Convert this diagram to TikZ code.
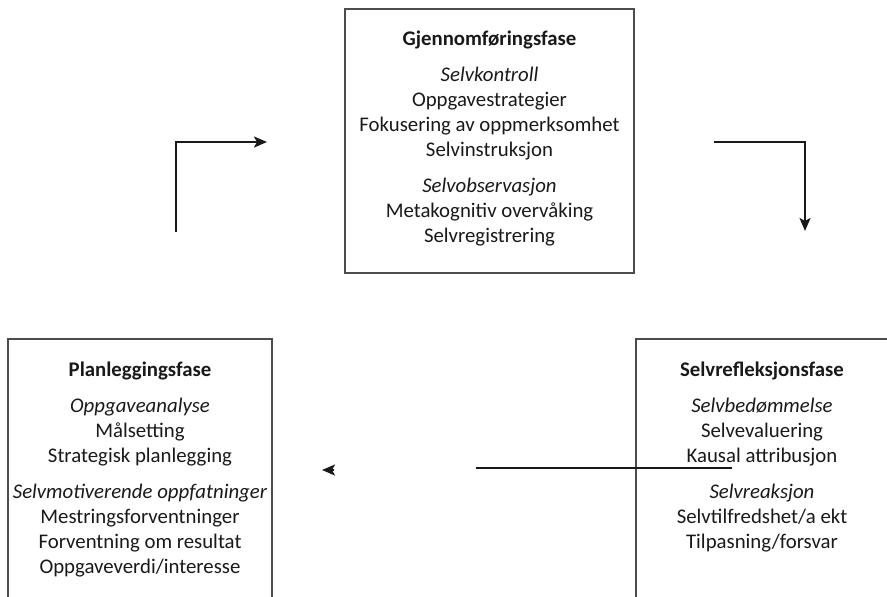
\documentclass[tikz,border=0pt]{standalone}
\usepackage{fontspec}
\setmainfont{Carlito}
\usetikzlibrary{arrows.meta,positioning}

\begin{document}
\begin{tikzpicture}[x=1pt, y=-1pt,
      box/.style={draw=black!70, line width=1.1pt, inner sep=0pt},
      txt/.style={anchor=north, align=center, inner sep=0pt, text=black!90,
                  font=\fontsize{20.8}{25}\selectfont},
      arr/.style={-{Stealth[length=13pt, width=11pt, inset=3pt]}, line width=2pt, black!90},
      ln/.style={line width=1.8pt, black!90},
    ]
    \useasboundingbox (0,0) rectangle (887,597);
    \clip (0,0) rectangle (887,597);

    \node[box, minimum width=289pt, minimum height=264pt] (gjen) at (489.5,141) {};
    \node[txt] (gjenT) at (489.5,31) {\textbf{Gjennomføringsfase}\\[11pt]
      \textit{Selvkontroll}\\ Oppgavestrategier\\ Fokusering av oppmerksomhet\\ Selvinstruksjon\\[11pt]
      \textit{Selvobservasjon}\\ Metakognitiv overvåking\\ Selvregistrering};

    \node[box, minimum width=264pt, minimum height=270pt] (plan) at (140,474) {};
    \node[txt] (planT) at (140,362) {\textbf{Planleggingsfase}\\[11pt]
      \textit{Oppgaveanalyse}\\ Målsetting\\ Strategisk planlegging\\[11pt]
      \textit{Selvmotiverende oppfatninger}\\ Mestringsforventninger\\ Forventning om resultat\\ Oppgaveverdi/interesse};

    \node[box, minimum width=264pt, minimum height=270pt] (refl) at (768,474) {};
    \node[txt] (reflT) at (762,362) {\textbf{Selvrefleksjonsfase}\\[11pt]
      \textit{Selvbedømmelse}\\ Selvevaluering\\ Kausal attribusjon\\[11pt]
      \textit{Selvreaksjon}\\ Selvtilfredshet/a ekt\\ Tilpasning/forsvar};

    \coordinate (a1) at (176,232);
    \coordinate (a2) at (267,142);
    \coordinate (b1) at (714,142);
    \coordinate (b2) at (805,231);
    \coordinate (c1) at (732,468);
    \coordinate (c2) at (476,468);
    \coordinate (d1) at (334,470);
    \coordinate (d2) at (322,470);

    \draw[arr] (a1) |- (a2);
    \draw[arr] (b1) -| (b2);
    \draw[ln]  (c1) -- (c2);
    \draw[arr] (d1) -- (d2);
  \end{tikzpicture}
\end{document}
